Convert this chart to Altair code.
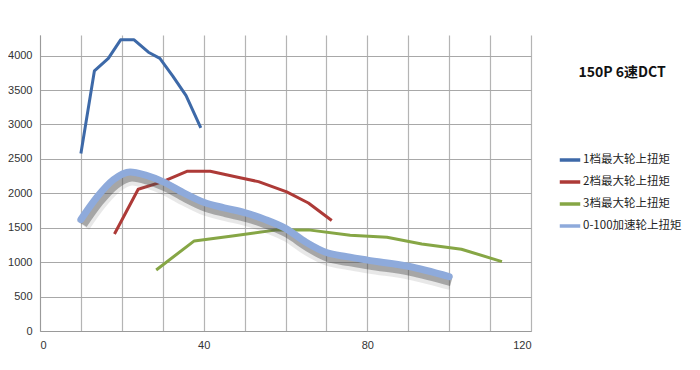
import altair as alt
import pandas as pd

series_names = ["1档最大轮上扭矩", "2档最大轮上扭矩", "3档最大轮上扭矩", "0-100加速轮上扭矩"]
series_colors = ["#3D69A8", "#AD3A37", "#86A645", "#8EAADB"]

g1_x = [10, 13.3, 16.7, 19.7, 23, 26.5, 29.3, 32.5, 35.7, 39.3]
g1_y = [2580, 3780, 3960, 4230, 4230, 4050, 3960, 3700, 3420, 2950]

g2_x = [18.2, 24, 30, 35.9, 41.6, 48.9, 53.4, 60.3, 65.6, 71.3]
g2_y = [1410, 2060, 2170, 2320, 2320, 2225, 2170, 2020, 1860, 1605]

g3_x = [28.4, 37.7, 47, 57.9, 65.6, 75.8, 84.8, 93.3, 103, 112.9]
g3_y = [887, 1309, 1380, 1469, 1469, 1390, 1362, 1265, 1188, 1008]

acc_x = [10, 14, 18, 22, 26, 30, 35, 40, 45, 50, 55, 60, 65, 70, 75, 80, 90, 100]
acc_y = [1620, 1950, 2200, 2310, 2260, 2170, 2010, 1870, 1790, 1720, 1620, 1490, 1290, 1140, 1080, 1030, 940, 790]

y_ticks = [0, 500, 1000, 1500, 2000, 2500, 3000, 3500, 4000]
x_grid = [0, 10, 20, 30, 40, 50, 60, 70, 80, 90, 100, 110, 120]

title_text = "150P 6速DCT"

rows = []
for name, xs, ys in zip(series_names, [g1_x, g2_x, g3_x, acc_x], [g1_y, g2_y, g3_y, acc_y]):
    for i, (a, b) in enumerate(zip(xs, ys)):
        rows.append({"series": name, "x": a, "y": b, "order": i})
df = pd.DataFrame(rows)
thin = df[df.series != series_names[3]]
thick = df[df.series == series_names[3]]

xs_scale = alt.Scale(domain=[0, 120], nice=False)
ys_scale = alt.Scale(domain=[0, 4300], nice=False)

x_axis = alt.Axis(values=x_grid,
                  labelExpr="datum.value % 40 == 0 ? datum.label : ''",
                  title=None, grid=True, gridColor="#B4B4B4", gridWidth=1.2,
                  ticks=False, domainColor="#9A9A9A", labelFontSize=11,
                  labelColor="#333333", labelPadding=8, labelFont="Liberation Sans")
y_axis = alt.Axis(values=y_ticks, title=None, grid=True,
                  format="d", labelOverlap=False,
                  gridColor="#A8A8A8", gridWidth=1.2, ticks=False,
                  domainColor="#9A9A9A", labelFontSize=11, labelColor="#333333",
                  labelPadding=8, labelFont="Liberation Sans")

def xe():
    return alt.X("x:Q", scale=xs_scale, axis=x_axis)

def ye():
    return alt.Y("y:Q", scale=ys_scale, axis=y_axis)

legend = alt.Legend(title=None, orient="none", legendX=518, legendY=113,
                    symbolType="stroke", symbolStrokeWidth=3.5,
                    symbolSize=420, labelFontSize=11.5, rowPadding=3,
                    labelColor="#222222", labelFont="Noto Sans CJK SC",
                    labelOffset=1)

def ce():
    return alt.Color("series:N", scale=alt.Scale(domain=series_names, range=series_colors),
                     legend=legend)

lines = alt.Chart(thin).mark_line(strokeWidth=3, strokeJoin="round").encode(
    x=xe(), y=ye(), color=ce(), order="order:Q")

shadow1 = alt.Chart(thick).mark_line(strokeWidth=15, color="#666666", opacity=0.15,
                                     interpolate="monotone", yOffset=6, xOffset=2).encode(
    x=xe(), y=ye(), order="order:Q")
shadow2 = alt.Chart(thick).mark_line(strokeWidth=9, color="#444444", opacity=0.4,
                                     interpolate="monotone", yOffset=5, xOffset=2).encode(
    x=xe(), y=ye(), order="order:Q")
acc_line = alt.Chart(thick).mark_line(strokeWidth=7, interpolate="monotone",
                                      strokeCap="round").encode(
    x=xe(), y=ye(), color=ce(), order="order:Q")

title = alt.Chart(pd.DataFrame({"t": [title_text]})).mark_text(
    fontSize=14, fontWeight="bold", font="Noto Sans CJK SC", color="#111111", align="center"
).encode(x=alt.value(582), y=alt.value(38), text="t:N")

chart = alt.layer(lines, shadow1, shadow2, acc_line, title).properties(
    width=491, height=296,
    padding={"left": 32, "top": 27, "right": 160, "bottom": 30},
    autosize="none",
).configure_view(stroke=None)

chart.save("out.html", embed_options={"renderer": "svg", "actions": False})
